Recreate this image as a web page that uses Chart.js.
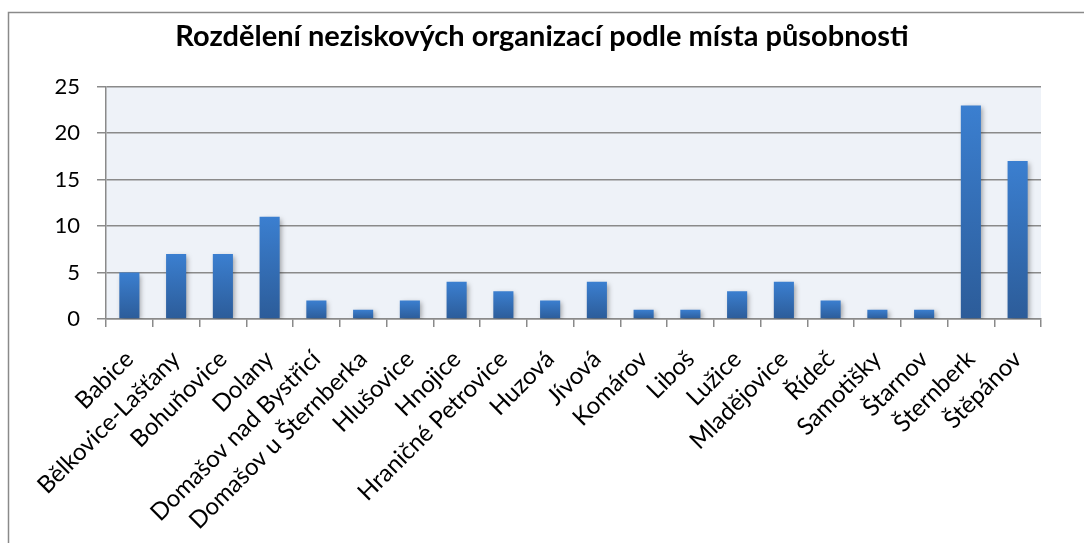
<!DOCTYPE html>
<html>
<head>
<meta charset="utf-8">
<script src="https://cdn.jsdelivr.net/npm/chart.js@4"></script>
<style>
  html, body { margin: 0; padding: 0; background: #fff; }
  #wrap { position: relative; width: 1084px; height: 543px; }
</style>
</head>
<body>
<div id="wrap"><canvas id="chart"></canvas></div>
<script>
// data
const mista = [
  "Babice", "Bělkovice-Lašťany", "Bohuňovice", "Dolany", "Domašov nad Bystřicí",
  "Domašov u Šternberka", "Hlušovice", "Hnojice", "Hraničné Petrovice", "Huzová",
  "Jívová", "Komárov", "Liboš", "Lužice", "Mladějovice", "Řídeč", "Samotišky",
  "Štarnov", "Šternberk", "Štěpánov"
];
const pocty = [5, 7, 7, 11, 2, 1, 2, 4, 3, 2, 4, 1, 1, 3, 4, 2, 1, 1, 23, 17];
const yTicks = [0, 5, 10, 15, 20, 25];

const titulek = "Rozdělení neziskových organizací podle místa působnosti";
const FONT = "Lato, 'Open Sans', sans-serif";

// frame + plot background
const framePlugin = {
  id: "frame",
  beforeDraw(chart) {
    const { ctx, chartArea } = chart;
    ctx.save();
    ctx.fillStyle = "#fff";
    ctx.fillRect(0, 0, chart.width, chart.height);
    ctx.strokeStyle = "#8a8a8a";
    ctx.lineWidth = 1.5;
    ctx.beginPath();
    ctx.moveTo(8.5, chart.height + 5);
    ctx.lineTo(8.5, 12.5);
    ctx.lineTo(chart.width + 5, 12.5);
    ctx.stroke();
    ctx.fillStyle = "#eef2f8";
    ctx.fillRect(chartArea.left, chartArea.top, chartArea.right - chartArea.left, chartArea.bottom - chartArea.top);
    ctx.restore();
  },
  beforeDatasetsDraw(chart) {
    const ctx = chart.ctx;
    ctx.save();
    ctx.shadowColor = "rgba(0,0,0,0.35)";
    ctx.shadowBlur = 5;
    ctx.shadowOffsetX = 2;
    ctx.shadowOffsetY = 2;
  },
  afterDatasetsDraw(chart) {
    chart.ctx.restore();
  }
};

function barFill(context) {
  const chart = context.chart;
  const { ctx, chartArea, scales } = chart;
  if (!chartArea || !scales.y) return "#3671bb";
  const v = context.raw;
  const top = scales.y.getPixelForValue(v);
  const bottom = scales.y.getPixelForValue(0);
  if (!isFinite(top) || top === bottom) return "#3671bb";
  const g = ctx.createLinearGradient(0, top, 0, bottom);
  g.addColorStop(0, "#3b7fd0");
  g.addColorStop(1, "#2c5c99");
  return g;
}

new Chart(document.getElementById("chart"), {
  type: "bar",
  data: {
    labels: mista,
    datasets: [{
      data: pocty,
      backgroundColor: barFill,
      borderWidth: 0,
      categoryPercentage: 1,
      barPercentage: 0.43
    }]
  },
  options: {
    responsive: true,
    maintainAspectRatio: false,
    animation: false,
    events: [],
    layout: { padding: 0 },
    plugins: {
      legend: { display: false },
      tooltip: { enabled: false },
      title: {
        display: true,
        text: titulek,
        color: "#000",
        font: { family: FONT, size: 29, weight: "bold" },
        padding: { top: 19, bottom: 33 }
      }
    },
    scales: {
      x: {
        grid: { display: true, drawOnChartArea: false, drawTicks: true, tickLength: 8, color: "#8a8a8a", lineWidth: 1.5 },
        border: { display: true, color: "#8a8a8a", width: 1.5 },
        ticks: {
          color: "#000",
          font: { family: FONT, size: 24 },
          minRotation: 45,
          maxRotation: 45,
          autoSkip: false,
          padding: 18
        },
        afterFit(scale) { scale.height = 224; }
      },
      y: {
        min: 0,
        max: 25,
        afterBuildTicks(scale) { scale.ticks = yTicks.map(v => ({ value: v })); },
        grid: { color: "#8a8a8a", lineWidth: 1.5, tickLength: 9 },
        border: { display: true, color: "#8a8a8a", width: 1.5 },
        ticks: {
          color: "#000",
          font: { family: FONT, size: 22 },
          padding: 17
        },
        afterFit(scale) { scale.width = 106; }
      },
      // empty right axis only to keep the right margin
      yRight: {
        position: "right",
        grid: { display: false },
        border: { display: false },
        ticks: { display: false },
        afterFit(scale) { scale.width = 43; }
      }
    }
  },
  plugins: [framePlugin]
});
</script>
</body>
</html>
